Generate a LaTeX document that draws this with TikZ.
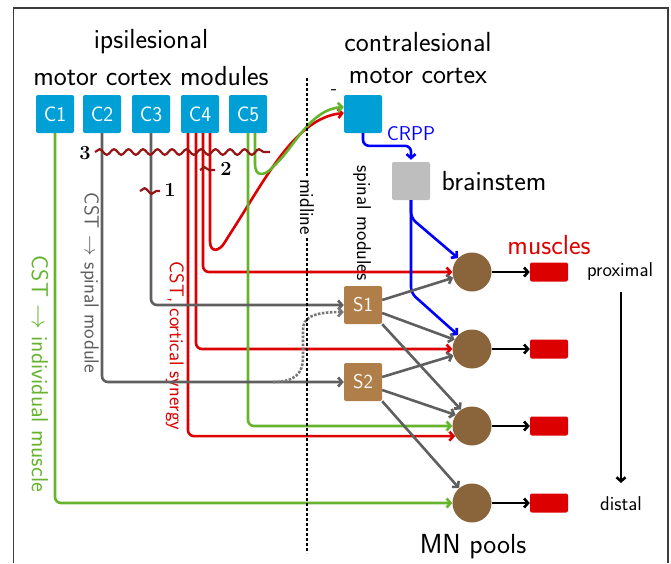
\documentclass[tikz,border=0pt]{standalone}
\usepackage{fontspec}
\usetikzlibrary{arrows.meta,decorations.pathmorphing,calc}

\definecolor{cortexblue}{RGB}{0,160,214}
\definecolor{spinbrown}{RGB}{176,126,72}
\definecolor{poolbrown}{RGB}{138,100,58}
\definecolor{musred}{RGB}{221,0,0}
\definecolor{cstgreen}{RGB}{102,180,46}
\definecolor{cstgray}{RGB}{95,95,95}
\definecolor{lesion}{RGB}{150,20,20}
\definecolor{stemgray}{RGB}{190,190,190}
\definecolor{framegray}{RGB}{60,60,60}

\begin{document}
\begin{tikzpicture}[x=1pt,y=-1pt,
  bigtext/.style={font=\fontsize{27.6}{32}\selectfont\sffamily, inner sep=0pt},
  smalltext/.style={font=\fontsize{20}{24}\selectfont\sffamily, inner sep=0pt},
  numtext/.style={font=\fontsize{20}{24}\selectfont\rmfamily\bfseries, inner sep=0pt},
  cmod/.style={rectangle, rounded corners=2pt, fill=cortexblue, minimum size=38pt,
    inner sep=0pt, text=white, font=\fontsize{21}{24}\selectfont\sffamily},
  smod/.style={rectangle, rounded corners=2pt, fill=spinbrown, minimum size=38pt,
    inner sep=0pt, text=white, font=\fontsize{20}{24}\selectfont\sffamily},
  stembox/.style={rectangle, rounded corners=2pt, fill=stemgray, minimum size=38pt, inner sep=0pt},
  pool/.style={circle, fill=poolbrown, minimum size=39pt, inner sep=0pt},
  musc/.style={rectangle, rounded corners=2pt, fill=musred, minimum width=38pt,
    minimum height=19pt, inner sep=0pt},
  tract/.style={line width=2.6pt, rounded corners=6pt,
    -{Straight Barb[length=4pt,width=9pt]}},
  redl/.style={tract, draw=musred},
  greenl/.style={tract, draw=cstgreen},
  grayl/.style={tract, draw=cstgray},
  bluel/.style={tract, draw=blue},
  blackl/.style={tract, draw=black},
  dottedgray/.style={tract, draw=cstgray!85, dash pattern=on 2.5pt off 1.5pt},
  midl/.style={line width=1.6pt, dash pattern=on 2.5pt off 2.5pt},
  lesionl/.style={line width=2.2pt, draw=lesion, decorate,
    decoration={snake, amplitude=2.8pt, segment length=14.5pt}},
  framel/.style={line width=1.1pt, draw=framegray}
]
\useasboundingbox (0,0) rectangle (671,563);

% outer frame
\draw[framel] (13.5,563) -- (13.5,8) -- (668,8) -- (668,563);

% headings
\node[bigtext] (ipsi1) at (151,42) {ipsilesional};
\node[bigtext] (ipsi2) at (151,76) {motor cortex modules};
\node[bigtext] (contra1) at (418,42) {contralesional};
\node[bigtext] (contra2) at (418,76) {motor cortex};

% cortical modules
\node[cmod] (C1) at (55,114) {C1};
\node[cmod] (C2) at (102,114) {C2};
\node[cmod] (C3) at (151,114) {C3};
\node[cmod] (C4) at (200,114) {C4};
\node[cmod] (C5) at (248,114) {C5};
\node[cmod] (CB) at (363,114) {};
\node[smalltext] (minus) at (334,92) {-};

% brainstem
\node[stembox] (BS) at (411,181) {};
\node[bigtext] (bstext) at (494,181) {brainstem};
\node[smalltext, text=blue] (crpp) at (411,134) {CRPP};

% spinal modules
\node[smod] (S1) at (363,305) {S1};
\node[smod] (S2) at (363,382) {S2};

% motoneuron pools and muscles
\foreach \i/\y in {1/272,2/349,3/426,4/503}{
  \node[pool] (M\i) at (472,\y) {};
  \node[musc] (R\i) at (549,\y) {};
}
\node[bigtext, text=musred] (mus) at (549,245) {muscles};
\node[smalltext] (prox) at (620,272) {proximal};
\node[smalltext] (dist) at (621,504) {distal};
\node[bigtext] (mn) at (473,547) {MN pools};

% pathway labels
\node[font=\fontsize{23.3}{28}\selectfont\sffamily, inner sep=0pt, text=cstgreen, rotate=-90]
  (lgreen) at (40,374) {CST $\rightarrow$ individual muscle};
\node[font=\fontsize{20.5}{24}\selectfont\sffamily, inner sep=0pt, text=cstgray, rotate=-90]
  (lgray) at (90,283) {CST $\rightarrow$ spinal module};
\node[smalltext, text=musred, rotate=-90] (lred) at (175,346) {CST, cortical synergy};
\node[smalltext, rotate=-90] (lspin) at (362,223) {spinal modules};

% cortical synergy tracts (red)
\draw[redl] ([xshift=-12pt]C4.south) |- (M3.211);
\draw[redl] ([xshift=-4pt]C4.south) |- (M2.west);
\draw[redl] ([xshift=3pt]C4.south) |- (M1.west);
\draw[redl] ([xshift=10pt]C4.south) -- (210,235)
  .. controls (210,253) and (219,252) .. (228,237)
  .. controls (265,180) and (295,118) .. ([yshift=1pt]CB.west);

% individual muscle tracts (green)
\draw[greenl] (C1.south) |- (M4.west);
\draw[greenl] (C5.south) |- (M3.west);
\draw[greenl] ([xshift=7pt]C5.south) -- (255,158)
  .. controls (255,176) and (263,177) .. (276,164)
  .. controls (295,144) and (312,109) .. ([yshift=7pt]CB.west);

% reticulospinal pathway (blue)
\draw[bluel, shorten >=2pt] (CB.south) |- ($(BS.north)+(0,-16)$) -- (BS.north);
\draw[bluel] (BS.south) -- (BS.south |- 0,218) -- (M1.135);
\draw[bluel] (BS.south) -- (BS.south |- 0,293) -- (M2.135);

% spinal module tracts (gray)
\draw[grayl] (C3.south) |- (S1.west);
\draw[grayl] (C2.south) |- (S2.west);
\coordinate (split) at (273,382);
\draw[dottedgray] (split) .. controls (296,382) and (303,372) .. (303,352)
  -- (303,336) .. controls (303,318) and (312,312) .. ([yshift=-7pt]S1.west);
\draw[grayl] ([yshift=5pt]S1.east) -- (M1.197);
\draw[grayl] ([yshift=-8pt]S1.east) -- (M2.152);
\draw[grayl] (S1.south east) -- (M3.124);
\draw[grayl] ([yshift=5pt]S2.east) -- (M2.199);
\draw[grayl] ([yshift=-8pt]S2.east) -- (M3.146);
\draw[grayl] (S2.south east) -- (M4.131);

% pools to muscles
\foreach \i in {1,...,4}{
  \draw[blackl] (M\i.east) -- (R\i.west);
}
\coordinate (ptop) at (621,292);
\coordinate (pbot) at (621,483);
\draw[blackl] (ptop) -- (pbot);

% lesion sites
\draw[lesionl] (95,152) -- (270,152);
\node[numtext] (n3) at (85,153) {3};
\draw[lesionl] (140,191) -- (160,191);
\node[numtext] (n1) at (170,190) {1};
\draw[lesionl] (200,170) -- (215,170);
\node[numtext] (n2) at (226,169) {2};

% midline
\coordinate (mtop) at (307,78);
\coordinate (mbot) at (307,553);
\draw[midl] (mtop) -- (mbot);
\node[smalltext, rotate=-90, fill=white, inner sep=2pt] (mid) at (307,207) {midline};
\end{tikzpicture}
\end{document}
